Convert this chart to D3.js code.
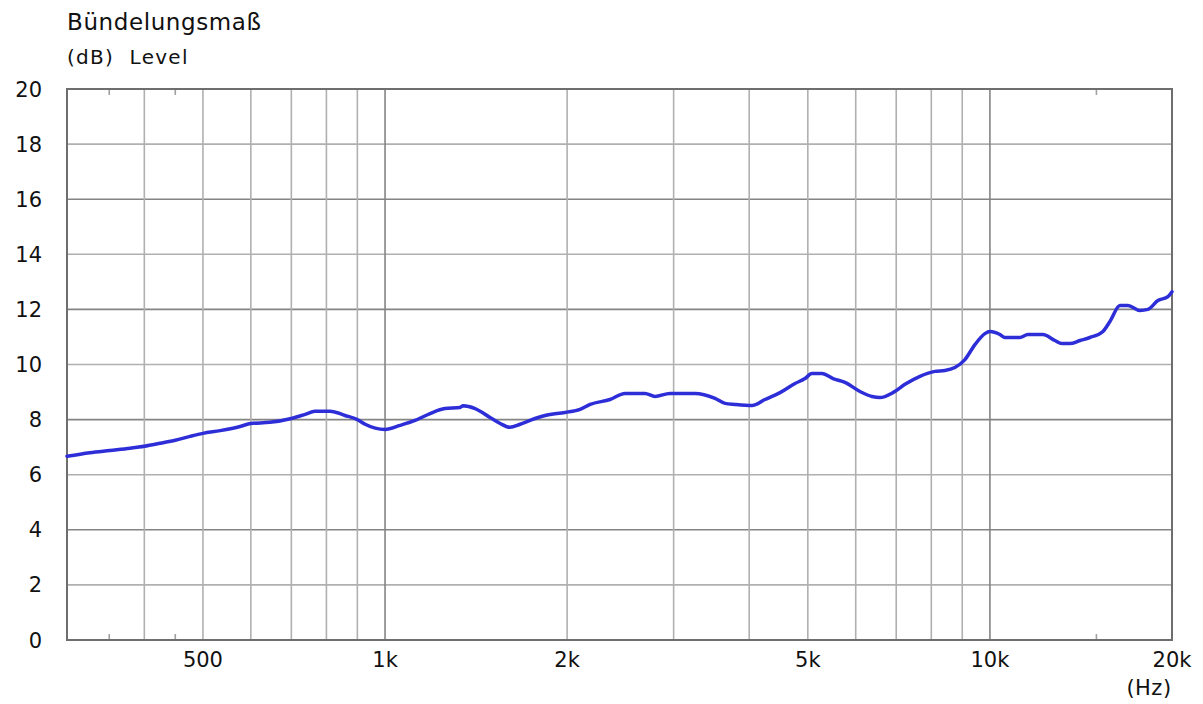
<!DOCTYPE html>
<html>
<head>
<meta charset="utf-8">
<script src="https://cdn.jsdelivr.net/npm/d3@7"></script>
<style>
  body { margin: 0; background: #fff; }
  text { font-family: "DejaVu Sans", Verdana, sans-serif; fill: #111; }
</style>
</head>
<body>
<svg id="chart" width="1203" height="704"></svg>
<script>
// frequency (Hz) / Bündelungsmaß (dB)
const freq = [298, 325, 351, 379, 400, 425, 450, 476, 500, 534, 576, 600, 645, 700, 738, 766,
  811, 859, 900, 927, 1000, 1059, 1121, 1187, 1256, 1330, 1346, 1409, 1491, 1550, 1609, 1672,
  1770, 1839, 1984, 2101, 2183, 2355, 2493, 2690, 2795, 2959, 3253, 3512, 3648, 3789, 4044,
  4247, 4498, 4762, 4946, 5079, 5277, 5503, 5760, 6097, 6383, 6577, 6914, 7237, 7661, 8111,
  8425, 8752, 9093, 9445, 9811, 10000, 10387, 10588, 11209, 11556, 12234, 12809, 13152, 13560,
  14087, 14632, 15378, 15791, 16404, 16911, 17701, 18250, 18958, 19695, 20000]
const level = [6.67, 6.8, 6.88, 6.96, 7.03, 7.14, 7.25, 7.39, 7.5, 7.6, 7.75, 7.86, 7.9, 8.04, 8.19, 8.3,
  8.3, 8.15, 8.0, 7.83, 7.64, 7.79, 7.97, 8.22, 8.4, 8.44, 8.5, 8.4, 8.08, 7.86, 7.72, 7.83,
  8.04, 8.15, 8.26, 8.37, 8.55, 8.73, 8.95, 8.95, 8.84, 8.95, 8.95, 8.77, 8.59, 8.55, 8.51,
  8.73, 8.98, 9.31, 9.49, 9.67, 9.67, 9.49, 9.35, 9.02, 8.84, 8.8, 8.98, 9.28, 9.57, 9.75,
  9.78, 9.89, 10.18, 10.72, 11.12, 11.2, 11.09, 10.98, 10.98, 11.09, 11.09, 10.87, 10.76, 10.76,
  10.87, 10.98, 11.2, 11.56, 12.14, 12.14, 11.96, 12.0, 12.32, 12.46, 12.64]

const xTicks = [500, 1000, 2000, 5000, 10000, 20000]
const xTickLabels = ["500", "1k", "2k", "5k", "10k", "20k"]
const xGrid = [400, 500, 600, 700, 800, 900, 1000, 2000, 3000, 4000, 5000, 6000, 7000, 8000, 9000, 10000]
const xMinor = [350, 450, 15000]
const yTicks = [0, 2, 4, 6, 8, 10, 12, 14, 16, 18, 20]

const svg = d3.select("#chart")
const pLeft = 67, pRight = 1172, pTop = 89, pBottom = 640

const x = d3.scaleLog().domain([298, 20000]).range([pLeft, pRight])
const y = d3.scaleLinear().domain([0, 20]).range([pBottom, pTop])

// grid
svg.append("g")
  .selectAll("line")
  .data(yTicks.filter(d => d > 0 && d < 20))
  .enter().append("line")
  .attr("x1", pLeft).attr("x2", pRight)
  .attr("y1", d => y(d)).attr("y2", d => y(d))
  .attr("stroke", d => d % 4 == 0 ? "#848484" : "#b0b0b0")
  .attr("stroke-width", 1.6)

svg.append("g")
  .selectAll("line")
  .data(xGrid)
  .enter().append("line")
  .attr("x1", d => x(d)).attr("x2", d => x(d))
  .attr("y1", pTop).attr("y2", pBottom)
  .attr("stroke", d => (d == 1000 || d == 10000) ? "#848484" : "#b0b0b0")
  .attr("stroke-width", 1.6)

// minor ticks top & bottom
const minor = svg.append("g")
minor.selectAll(".mt")
  .data(xMinor)
  .enter().append("line")
  .attr("x1", d => x(d)).attr("x2", d => x(d))
  .attr("y1", pTop).attr("y2", pTop + 6)
  .attr("stroke", "#a0a0a0").attr("stroke-width", 1.6)
minor.selectAll(".mb")
  .data(xMinor)
  .enter().append("line")
  .attr("x1", d => x(d)).attr("x2", d => x(d))
  .attr("y1", pBottom - 6).attr("y2", pBottom)
  .attr("stroke", "#a0a0a0").attr("stroke-width", 1.6)

// frame
svg.append("rect")
  .attr("x", pLeft).attr("y", pTop)
  .attr("width", pRight - pLeft).attr("height", pBottom - pTop)
  .attr("fill", "none")
  .attr("stroke", "#6e6e6e")
  .attr("stroke-width", 2)

// curve
const pts = freq.map((f, i) => [f, level[i]])
svg.append("path")
  .datum(pts)
  .attr("fill", "none")
  .attr("stroke", "#2e2ed8")
  .attr("stroke-width", 3.5)
  .attr("stroke-linejoin", "round")
  .attr("stroke-linecap", "round")
  .attr("d", d3.line()
    .x(d => x(d[0]))
    .y(d => y(d[1]))
    .curve(d3.curveMonotoneX))

// y tick labels
svg.append("g")
  .selectAll("text")
  .data(yTicks)
  .enter().append("text")
  .attr("x", 42)
  .attr("y", d => y(d))
  .attr("dy", "0.36em")
  .attr("text-anchor", "end")
  .style("font-size", "21px")
  .text(d => d)

// x tick labels
svg.append("g")
  .selectAll("text")
  .data(xTicks)
  .enter().append("text")
  .attr("x", d => x(d))
  .attr("y", 667)
  .attr("text-anchor", "middle")
  .style("font-size", "21px")
  .text((d, i) => xTickLabels[i])

svg.append("text")
  .attr("x", 1149).attr("y", 695)
  .attr("text-anchor", "middle")
  .style("font-size", "21px")
  .style("letter-spacing", "0.5px")
  .text("(Hz)")

svg.append("text")
  .attr("x", 67).attr("y", 30)
  .style("font-size", "23px")
  .style("letter-spacing", "0.6px")
  .text("Bündelungsmaß")

svg.append("text")
  .attr("x", 67).attr("y", 64)
  .style("font-size", "20px")
  .style("letter-spacing", "1.3px")
  .style("white-space", "pre")
  .text("(dB)  Level")
</script>
</body>
</html>
